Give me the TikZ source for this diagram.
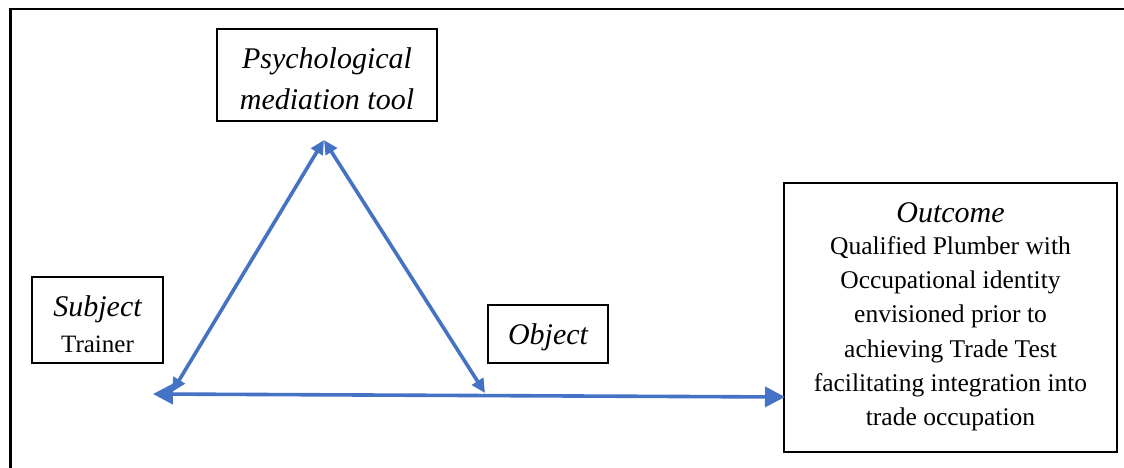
\documentclass[tikz,border=0pt]{standalone}
\usepackage{fontspec}
\setmainfont{Liberation Serif}
\usetikzlibrary{arrows.meta}
\definecolor{linkblue}{RGB}{68,114,196}
\tikzset{
  box/.style={draw=black, line width=1.1pt, inner sep=0pt, align=center},
  title/.style={font=\fontsize{30}{41}\selectfont\itshape},
  body/.style={font=\fontsize{25.5}{34.3}\selectfont},
  link/.style={draw=linkblue, line width=3.6pt},
}
\begin{document}
\begin{tikzpicture}[x=1pt, y=-1pt]
\useasboundingbox (0,0) rectangle (1124,468);
% page frame, open towards the right and bottom
\draw[line width=2.6pt, line cap=rect] (1130,9) -- (10.7,9) -- (10.7,475);

% labelled boxes
\node[box, minimum width=220pt, minimum height=92pt] (tool) at (327,75) {};
\node[title, align=center] (tooltext) at (327,79) {Psychological\\mediation tool};
\node[box, minimum width=131pt, minimum height=86pt] (subject) at (97.5,320) {};
\node[align=center, font=\fontsize{25}{36}\selectfont] (subjtext) at (97.5,324)
  {{\fontsize{30}{36}\selectfont\itshape Subject}\\Trainer};
\node[box, minimum width=120pt, minimum height=58pt] (object) at (548,334) {};
\node[title] (objtext) at (548,337) {Object};
\node[box, minimum width=333pt, minimum height=269pt] (outcome) at (950.5,317.5) {};
\node[body, align=center, anchor=north] (outtext) at (950.5,199.5)
  {{\fontsize{30}{36}\selectfont\itshape Outcome}\\[-3pt]
   Qualified Plumber with\\Occupational identity\\envisioned prior to\\
   achieving Trade Test\\facilitating integration into\\trade occupation};

% corners of the mediation triangle and the far ends of the base line
\coordinate (apex) at (324,140);
\coordinate (sjoint) at (172,392);
\coordinate (ojoint) at (485,393);
\coordinate (leftend) at (153,394);
\coordinate (rightend) at (785,397);

\draw[link, {Triangle[length=14pt, width=13pt]}-{Triangle[length=14pt, width=13pt]}] (sjoint) -- (apex);
\draw[link, {Triangle[length=14pt, width=13pt]}-{Triangle[length=14pt, width=13pt]}] (apex) -- (ojoint);
\draw[link, {Triangle[length=20pt, width=20pt]}-{Triangle[length=20pt, width=20pt]}] (leftend) -- (rightend);
\end{tikzpicture}
\end{document}
